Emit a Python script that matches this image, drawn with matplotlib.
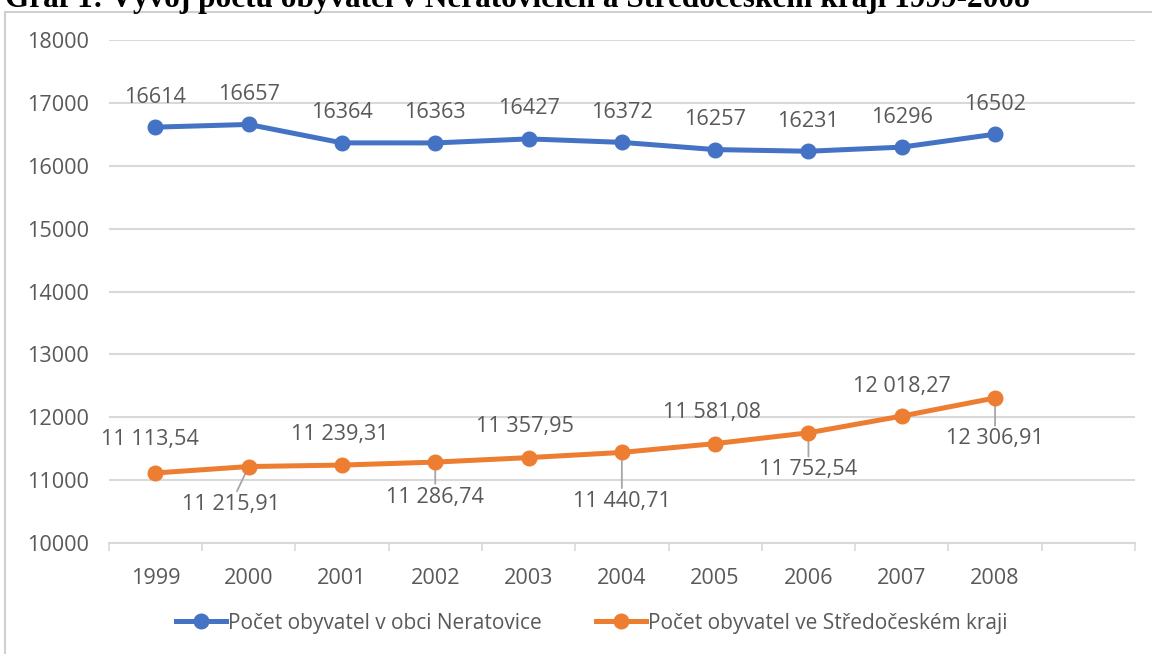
import matplotlib
matplotlib.use("Agg")
import matplotlib.pyplot as plt
from matplotlib.lines import Line2D

years = ["1999", "2000", "2001", "2002", "2003", "2004", "2005", "2006", "2007", "2008"]
neratovice = [16614, 16657, 16364, 16363, 16427, 16372, 16257, 16231, 16296, 16502]
kraj = [11113.54, 11215.91, 11239.31, 11286.74, 11357.95, 11440.71, 11581.08, 11752.54, 12018.27, 12306.91]
kraj_labels = ["11 113,54", "11 215,91", "11 239,31", "11 286,74", "11 357,95",
               "11 440,71", "11 581,08", "11 752,54", "12 018,27", "12 306,91"]
yticks = [10000, 11000, 12000, 13000, 14000, 15000, 16000, 17000, 18000]
title = "Graf 1: Vývoj počtu obyvatel v Neratovicích a Středočeském kraji 1999-2008"
legend_labels = ["Počet obyvatel v obci Neratovice", "Počet obyvatel ve Středočeském kraji"]

BLUE = "#4472C4"
ORANGE = "#ED7D31"
TXT = "#595959"
GRID = "#D9D9D9"
FONT = "Open Sans"
FS = 15.6

W, H = 1152, 654
fig = plt.figure(figsize=(W / 100, H / 100), dpi=100)
fig.patch.set_facecolor("white")

# chart border (top & left visible)
fig.add_artist(Line2D([5 / W, 5 / W], [0, 1 - 12 / H], transform=fig.transFigure, color="#D0D0D0", lw=1.5))
fig.add_artist(Line2D([5 / W, 1], [1 - 12 / H, 1 - 12 / H], transform=fig.transFigure, color="#D0D0D0", lw=1.5))

# title (partly cropped at the top edge, as in the reference)
fig.text(5 / W, 1 - 7 / H, title, fontsize=22.5, fontweight="bold", family="Liberation Serif",
         ha="left", va="baseline", color="black")

left, right = 108.7 / W, 1135 / W
bottom, top = 1 - 543 / H, 1 - 40 / H
ax = fig.add_axes([left, bottom, right - left, top - bottom])

x = list(range(len(years)))
ax.plot(x, neratovice, color=BLUE, lw=3.6, marker="o", ms=10.5, solid_capstyle="round", zorder=3)
ax.plot(x, kraj, color=ORANGE, lw=3.6, marker="o", ms=10.5, solid_capstyle="round", zorder=3)

ax.set_xlim(-0.5, 10.5)
ax.set_ylim(10000, 18000)
ax.set_yticks(yticks)
ax.set_yticklabels([str(v) for v in yticks])
ax.grid(axis="y", color=GRID, lw=1.5)
ax.set_axisbelow(True)

ax.set_xticks([i - 0.5 for i in range(12)])
ax.set_xticklabels([])
ax.set_xticks(x, minor=True)
ax.set_xticklabels(years, minor=True)
ax.tick_params(axis="x", which="major", length=6, width=1.2, color=GRID, direction="out")
ax.tick_params(axis="x", which="minor", length=0, pad=18)
ax.tick_params(axis="y", length=0, pad=14)
for lab in ax.get_xticklabels(minor=True) + ax.get_yticklabels():
    lab.set_family(FONT)
    lab.set_fontsize(FS)
    lab.set_color(TXT)

for s in ["left", "right", "top"]:
    ax.spines[s].set_visible(False)
ax.spines["bottom"].set_color(GRID)
ax.spines["bottom"].set_linewidth(1.5)

px = 72 / 100  # pixels -> points

# blue labels above
for i, v in enumerate(neratovice):
    ax.annotate(str(v), (i, v), xytext=(0, 30 * px), textcoords="offset points",
                ha="center", va="center", fontsize=FS, family=FONT, color=TXT)

# orange labels (offsets in pixels: dx, dy with positive dy = up)
offs = [(-5, 33), (-18, -38), (-2, 31), (0, -35), (-4, 31), (0, -49), (-3, 31), (0, -37), (0, 30), (0, -41)]
for i, (v, lab) in enumerate(zip(kraj, kraj_labels)):
    dx, dy = offs[i]
    props = None
    if dy < 0:
        props = dict(arrowstyle="-", color="#A6A6A6", lw=1.3, shrinkA=0, shrinkB=0)
    ax.annotate(lab, (i, v), xytext=(dx * px, dy * px), textcoords="offset points",
                ha="center", va="center", fontsize=FS, family=FONT, color=TXT,
                arrowprops=props, zorder=2.5)

handles = [Line2D([], [], color=BLUE, lw=3.6, marker="o", ms=10.5),
           Line2D([], [], color=ORANGE, lw=3.6, marker="o", ms=10.5)]
leg = fig.legend(handles, legend_labels, loc="center", bbox_to_anchor=(592 / W, 1 - 623 / H),
                 ncol=2, frameon=False, handlelength=2.4, handletextpad=0.1, columnspacing=2.6,
                 prop={"family": FONT, "size": 15.0})
for t in leg.get_texts():
    t.set_color(TXT)

fig.savefig("out.png", dpi=100, facecolor="white")
